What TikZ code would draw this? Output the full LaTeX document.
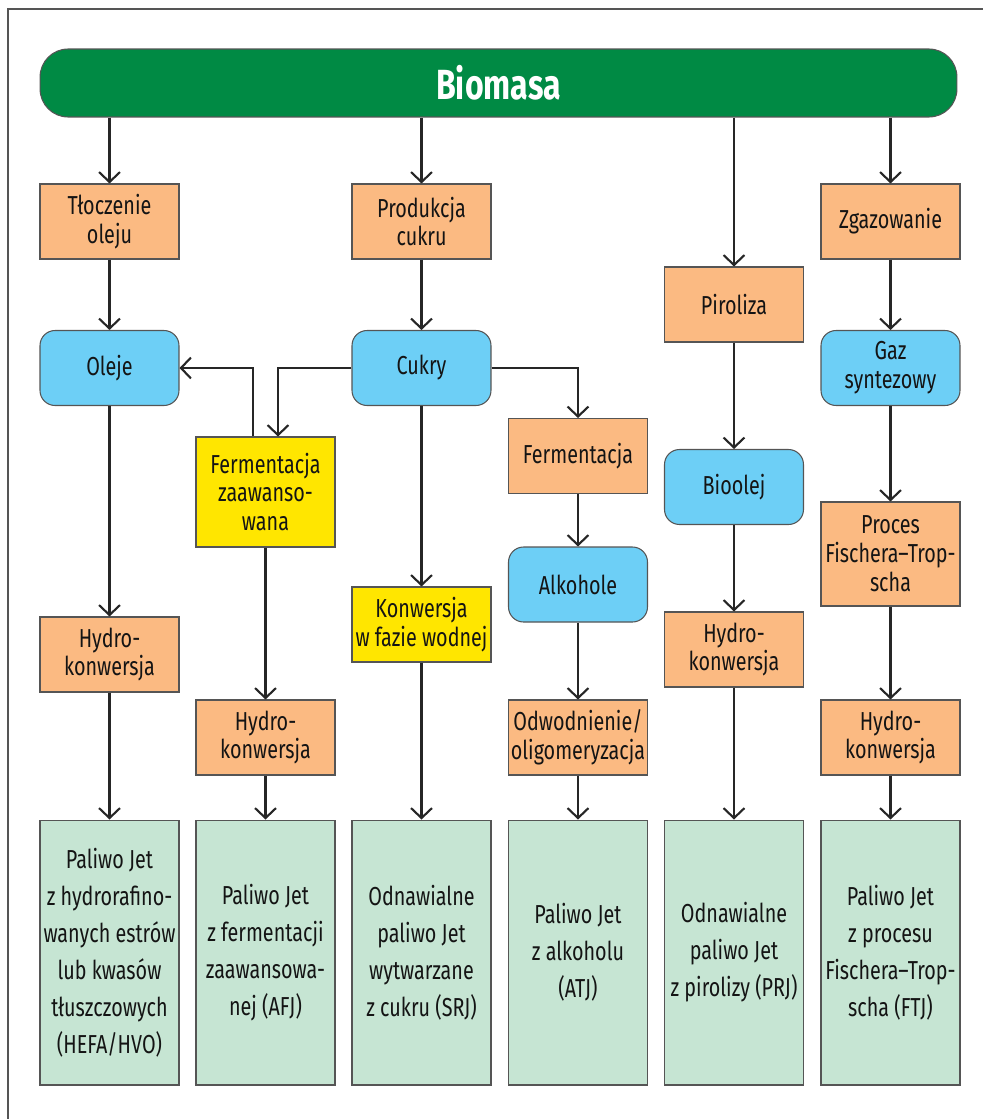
\documentclass[tikz,border=0pt]{standalone}
\usepackage{fontspec}
\setmainfont{Fira Sans}[FakeStretch=0.76]
\usetikzlibrary{arrows.meta}

\definecolor{biogreen}{HTML}{008A44}
\definecolor{procorange}{HTML}{FBBA82}
\definecolor{prodblue}{HTML}{6DCFF6}
\definecolor{advyellow}{HTML}{FFE600}
\definecolor{fuelgreen}{HTML}{C6E5D3}
\definecolor{edgegray}{HTML}{555555}

\tikzset{
	box/.style={draw=edgegray, line width=0.6pt, minimum width=2.78cm, minimum height=1.5cm,
		inner sep=0pt, align=center, font=\fontsize{14.8}{16.4}\selectfont, text=black!92},
	proc/.style={box, fill=procorange},
	prod/.style={box, fill=prodblue, rounded corners=0.3cm},
	adv/.style={box, fill=advyellow},
	fuel/.style={box, fill=fuelgreen, minimum height=5.3cm, font=\fontsize{14.8}{21}\selectfont},
	arr/.style={line width=1.2pt, draw=black!85, -{Straight Barb[length=0.2cm,width=0.42cm,line width=1.2pt]}},
	line/.style={line width=1.2pt, draw=black!85}
}

\begin{document}
\begin{tikzpicture}[x=0.02cm, y=-0.02cm]
		\useasboundingbox (0,0) rectangle (983,1119);
		% frame
		\draw[edgegray, line width=0.8pt] (8,1119) -- (8,9) -- (983,9);
		
		% Biomasa
		\node[draw=edgegray, line width=0.6pt, fill=biogreen, rounded corners=0.56cm,
			minimum width=18.34cm, minimum height=1.36cm, text=white,
			font=\fontsize{24}{26}\selectfont\bfseries] (biomasa) at (498.5,83) {Biomasa};
		
		% Column 1 - oleje
		\node[proc] (tloczenie) at (109.5,221.5) {Tłoczenie\\oleju};
		\node[prod] (oleje) at (109.5,368) {Oleje};
		\node[proc] (hydroA) at (109.5,654.5) {Hydro-\\konwersja};
		\node[fuel] (hefa) at (109.5,952.5) {Paliwo Jet\\z hydrorafino-\\wanych estrów\\lub kwasów\\tłuszczowych\\(HEFA/HVO)};
		
		% Column 2 - fermentacja zaawansowana
		\node[adv, minimum height=2.2cm] (fermzaaw) at (265.5,492) {Fermentacja\\zaawanso-\\wana};
		\node[proc] (hydroB) at (265.5,737.5) {Hydro-\\konwersja};
		\node[fuel] (afj) at (265.5,952.5) {Paliwo Jet\\z fermentacji\\zaawansowa-\\nej (AFJ)};
		
		% Column 3 - cukry
		\node[proc] (produkcja) at (421.5,221.5) {Produkcja\\cukru};
		\node[prod] (cukry) at (421.5,368) {Cukry};
		\node[adv] (konwersja) at (421.5,624.5) {Konwersja\\w fazie wodnej};
		\node[fuel] (srj) at (421.5,952.5) {Odnawialne\\paliwo Jet\\wytwarzane\\z cukru (SRJ)};
		
		% Column 4 - alkohole
		\node[proc] (ferment) at (578,456) {Fermentacja};
		\node[prod] (alkohole) at (578,584.5) {Alkohole};
		\node[proc] (odwodn) at (578,737.5) {Odwodnienie/\\oligomeryzacja};
		\node[fuel] (atj) at (578,952.5) {Paliwo Jet\\z alkoholu\\(ATJ)};
		
		% Column 5 - piroliza
		\node[proc] (piroliza) at (734,304.5) {Piroliza};
		\node[prod] (bioolej) at (734,487) {Bioolej};
		\node[proc] (hydroE) at (734,649.5) {Hydro-\\konwersja};
		\node[fuel] (prj) at (734,952.5) {Odnawialne\\paliwo Jet\\z pirolizy (PRJ)};
		
		% Column 6 - zgazowanie
		\node[proc] (zgazowanie) at (890.5,221.5) {Zgazowanie};
		\node[prod] (gaz) at (890.5,368) {Gaz\\syntezowy};
		\node[proc, minimum height=2.08cm] (fischer) at (890.5,554) {Proces\\Fischera--Trop-\\scha};
		\node[proc] (hydroF) at (890.5,737.5) {Hydro-\\konwersja};
		\node[fuel] (ftj) at (890.5,952.5) {Paliwo Jet\\z procesu\\Fischera--Trop-\\scha (FTJ)};
		
		% from Biomasa
		\draw[arr] (biomasa.south -| tloczenie) -- (tloczenie);
		\draw[arr] (biomasa.south -| produkcja) -- (produkcja);
		\draw[arr] (biomasa.south -| piroliza) -- (piroliza);
		\draw[arr] (biomasa.south -| zgazowanie) -- (zgazowanie);
		
		% chains
		\draw[arr] (tloczenie) -- (oleje);
		\draw[arr] (oleje) -- (hydroA);
		\draw[arr] (hydroA) -- (hefa);
		\draw[arr] (fermzaaw) -- (hydroB);
		\draw[arr] (hydroB) -- (afj);
		\draw[arr] (produkcja) -- (cukry);
		\draw[arr] (cukry) -- (konwersja);
		\draw[arr] (konwersja) -- (srj);
		\draw[arr] (ferment) -- (alkohole);
		\draw[arr] (alkohole) -- (odwodn);
		\draw[arr] (odwodn) -- (atj);
		\draw[arr] (piroliza) -- (bioolej);
		\draw[arr] (bioolej) -- (hydroE);
		\draw[arr] (hydroE) -- (prj);
		\draw[arr] (zgazowanie) -- (gaz);
		\draw[arr] (gaz) -- (fischer);
		\draw[arr] (fischer) -- (hydroF);
		\draw[arr] (hydroF) -- (ftj);
		
		% branches from Cukry
		\draw[arr] (cukry.west) -| ([xshift=0.25cm]fermzaaw.north);
		\draw[arr] ([xshift=-0.25cm]fermzaaw.north) |- (oleje.east);
		\draw[arr] (cukry.east) -| (ferment.north);
		
	\end{tikzpicture}
\end{document}
